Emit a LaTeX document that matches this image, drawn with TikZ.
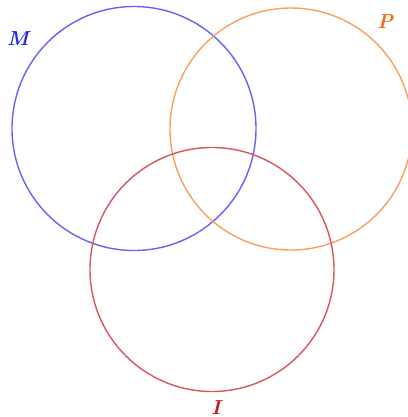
\documentclass[tikz,border=0pt]{standalone}
\definecolor{setM}{RGB}{100,100,250}
\definecolor{setP}{RGB}{250,160,95}
\definecolor{setI}{RGB}{218,85,95}
\definecolor{labM}{RGB}{40,40,225}
\definecolor{labP}{RGB}{245,105,25}
\definecolor{labI}{RGB}{200,25,35}
\tikzset{
  ring/.style={line width=1pt},
  setlabel/.style={font=\Large\bfseries\itshape}
}
\begin{document}
\begin{tikzpicture}[x=0.025cm,y=-0.025cm]
\useasboundingbox (0,0) rectangle (408,417);

\draw[ring,setM] (134,128.5) circle (122);
\draw[ring,setP] (291,129) circle (121);
\draw[ring,setI] (212,269.5) circle (122);

\node[setlabel,labM] (labelM) at (18,39) {M};
\node[setlabel,labP] (labelP) at (385,22) {P};
\node[setlabel,labI] (labelI) at (216,408) {I};
\end{tikzpicture}
\end{document}
